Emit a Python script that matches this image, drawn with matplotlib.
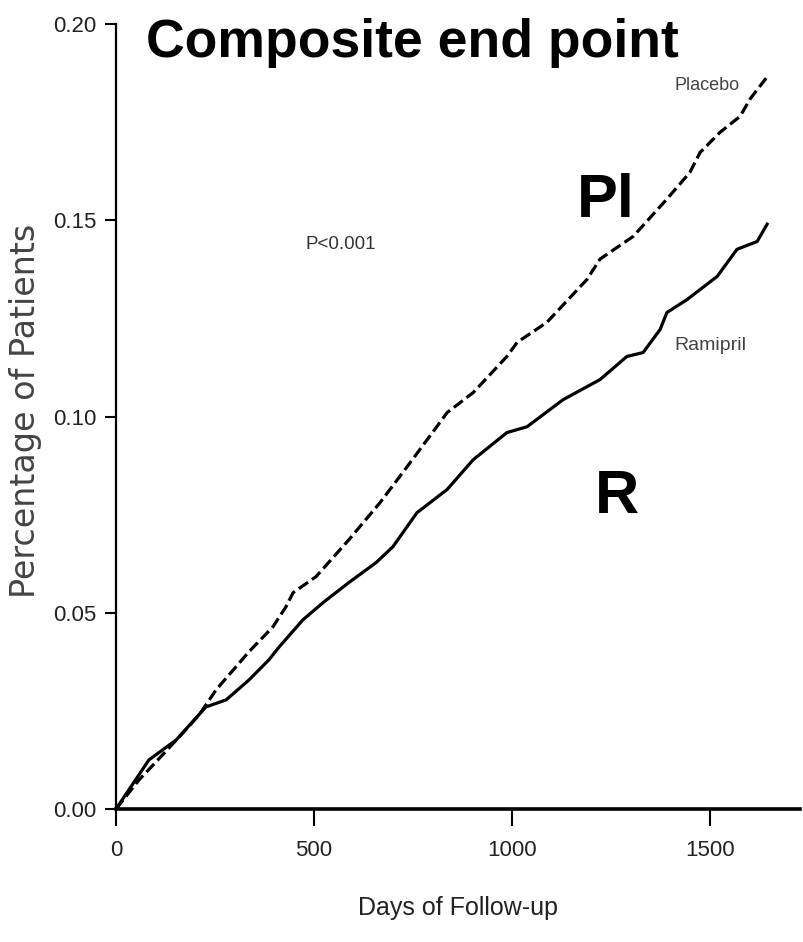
import matplotlib
matplotlib.use("Agg")
import matplotlib.pyplot as plt

# cumulative event rate (days, fraction of patients)
placebo_days = [0, 58, 101, 169, 210, 253, 336, 396, 429, 447, 505, 588, 667,
                735, 818, 836, 902, 987, 1013, 1088, 1189, 1222, 1306, 1391,
                1449, 1475, 1525, 1576, 1601, 1626, 1644]
placebo_rate = [0.0, 0.0074, 0.0120, 0.0194, 0.0240, 0.0304, 0.0401, 0.0464,
                0.0515, 0.0551, 0.0592, 0.0686, 0.0781, 0.0872, 0.0985, 0.1010,
                0.1061, 0.1153, 0.1189, 0.1240, 0.1349, 0.1401, 0.1459, 0.1554,
                0.1622, 0.1673, 0.1724, 0.1765, 0.1809, 0.1842, 0.1865]

ramipril_days = [0, 83, 152, 227, 278, 336, 386, 412, 472, 523, 588, 657, 699,
                 760, 836, 902, 987, 1038, 1129, 1222, 1290, 1331, 1374, 1391,
                 1442, 1518, 1568, 1619, 1644]
ramipril_rate = [0.0, 0.0125, 0.0176, 0.0260, 0.0278, 0.0329, 0.0380, 0.0413,
                 0.0482, 0.0526, 0.0577, 0.0628, 0.0668, 0.0755, 0.0814, 0.0890,
                 0.0959, 0.0974, 0.1043, 0.1094, 0.1153, 0.1163, 0.1222, 0.1265,
                 0.1298, 0.1357, 0.1426, 0.1446, 0.1490]

x_ticks = [0, 500, 1000, 1500]
y_ticks = [0.00, 0.05, 0.10, 0.15, 0.20]
y_ticklabels = ["0.00", "0.05", "0.10", "0.15", "0.20"]

sans = ["Liberation Sans", "DejaVu Sans"]

fig = plt.figure(figsize=(8.04, 9.42), dpi=100)
ax = fig.add_axes([0.1443, 0.1412, 0.8507, 0.8333])

ax.plot(placebo_days, placebo_rate, color="black", lw=2.3, ls=(0, (3.5, 1.5)))
ax.plot(ramipril_days, ramipril_rate, color="black", lw=2.3)

ax.set_xlim(0, 1727)
ax.set_ylim(0, 0.20)
ax.set_xticks(x_ticks)
ax.set_xticklabels([str(t) for t in x_ticks], family=sans, fontsize=16,
                   color="#222222")
ax.set_yticks(y_ticks)
ax.set_yticklabels(y_ticklabels, family=sans, fontsize=16, color="#222222")
ax.tick_params(axis="x", direction="out", length=12, width=1.5, pad=10)
ax.tick_params(axis="y", direction="out", length=8, width=1.5, pad=6)

for side in ("top", "right"):
    ax.spines[side].set_visible(False)
ax.spines["left"].set_linewidth(1.6)
ax.spines["bottom"].set_linewidth(2.6)
ax.spines["bottom"].set_zorder(5)

ax.set_xlabel("Days of Follow-up", family=sans, fontsize=18,
              color="#222222")
ax.xaxis.set_label_coords((458 - 116) / 684, -(896 - 809) / 785)
ax.set_ylabel("Percentage of Patients", family=["DejaVu Sans"], fontsize=24,
              color="#444444")
ax.yaxis.set_label_coords(-(116 - 42) / 684, (809 - 411) / 785)

fig.text(0.181, 1 - 57 / 942, "Composite end point", family=sans,
         fontweight="bold", fontsize=38.5, va="baseline", ha="left")

ax.text(1492, 0.1844, "Placebo", family=sans, fontsize=13,
        color="#444444", ha="center", va="center")
ax.text(1502, 0.1181, "Ramipril", family=sans, fontsize=14,
        color="#444444", ha="center", va="center")
ax.text(568, 0.1439, "P<0.001", family=sans, fontsize=13.5,
        color="#333333", ha="center", va="center")

ax.text(1163, 0.1508, "Pl", family=sans, fontweight="bold", fontsize=44,
        ha="left", va="baseline")
ax.text(1210, 0.0755, "R", family=sans, fontweight="bold", fontsize=44,
        ha="left", va="baseline")

fig.savefig("out.png", dpi=100)
